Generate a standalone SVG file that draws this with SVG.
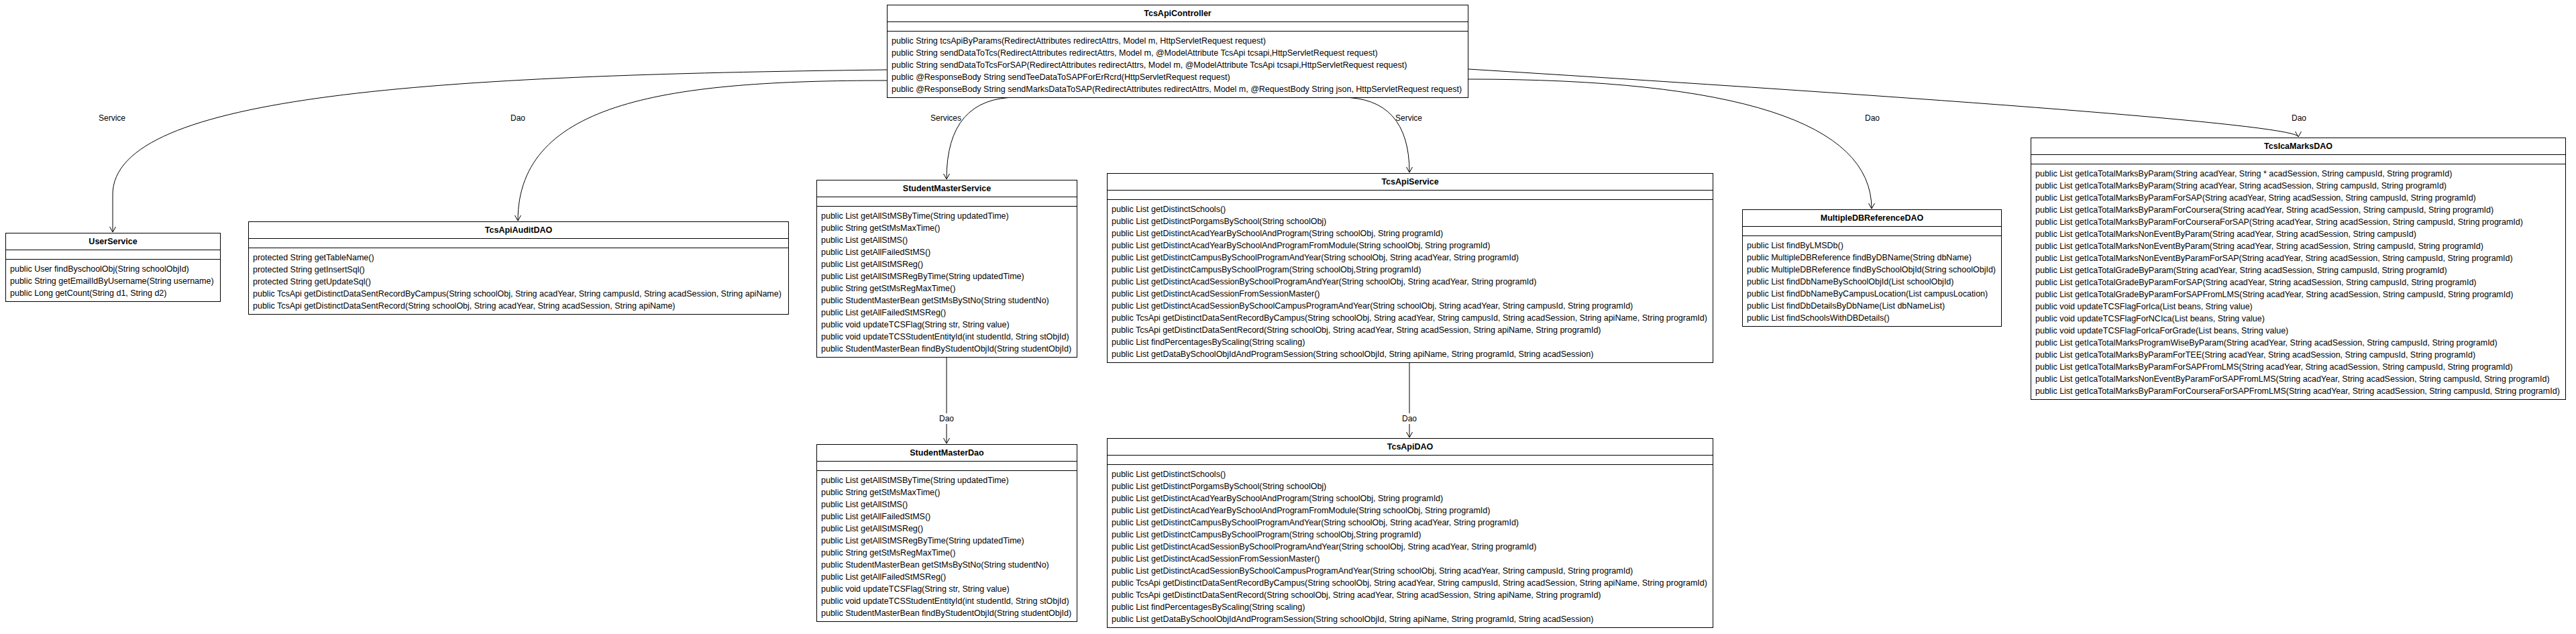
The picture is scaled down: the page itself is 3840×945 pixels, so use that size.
<svg xmlns="http://www.w3.org/2000/svg" width="3840" height="945" viewBox="0 0 3840 945">
<style>
  .box{fill:#ffffff;stroke:#000000;stroke-width:1}
  .sep{stroke:#000000;stroke-width:1}
  .title{font-family:"Liberation Sans",Arial,sans-serif;font-size:12.5px;font-weight:bold;fill:#000000;text-anchor:middle}
  .m{font-family:"Liberation Sans",Arial,sans-serif;font-size:12.5px;fill:#000000}
  .edge{fill:none;stroke:#000000;stroke-width:1;marker-end:url(#open)}
  .lbl{font-family:"Liberation Sans",Arial,sans-serif;font-size:12px;fill:#000000;text-anchor:middle}
  .lblbg{fill:#ffffff}
</style>
<defs>
  <marker id="open" viewBox="-10 -6 12 12" refX="0" refY="0" markerWidth="12" markerHeight="12" markerUnits="userSpaceOnUse" orient="auto">
    <path d="M-8,-4.5 L0,0 L-8,4.5" fill="none" stroke="#000000" stroke-width="1"/>
  </marker>
</defs>
<rect x="0" y="0" width="3840" height="945" fill="#ffffff"/>

<g id="connectors">
  <path class="edge" d="M1322,104 C650,112 168,140 168,290 L168,346"/>
  <path class="edge" d="M1322,120 C1000,120 772,150 772,329"/>
  <path class="edge" d="M1516,145 Q1411,145 1411,267"/>
  <path class="edge" d="M1999,145 Q2101,145 2101,257"/>
  <path class="edge" d="M2189,118 Q2790,118 2790,311"/>
  <path class="edge" d="M2189,103 Q3426,180 3426,204"/>
  <path class="edge" d="M1411,532 L1411,661"/>
  <path class="edge" d="M2101,540 L2101,652"/>
  <text class="lbl" x="167" y="180.3">Service</text>
  <text class="lbl" x="772" y="180.3">Dao</text>
  <text class="lbl" x="1410" y="180.3">Services</text>
  <text class="lbl" x="2100" y="180.3">Service</text>
  <text class="lbl" x="2791" y="180.3">Dao</text>
  <text class="lbl" x="3427" y="180.3">Dao</text>
  <rect class="lblbg" x="1399" y="616" width="24" height="16"/>
  <text class="lbl" x="1411" y="628.3">Dao</text>
  <rect class="lblbg" x="2089" y="616" width="24" height="16"/>
  <text class="lbl" x="2101" y="628.3">Dao</text>
</g>

<g id="TcsApiController">
  <rect class="box" x="1322.5" y="7.5" width="866" height="138"/>
  <line class="sep" x1="1322.5" y1="32.5" x2="2188.5" y2="32.5"/>
  <line class="sep" x1="1322.5" y1="46.5" x2="2188.5" y2="46.5"/>
  <text class="title" x="1755.5" y="24">TcsApiController</text>
  <text class="m" x="1329" y="64.5">public String tcsApiByParams(RedirectAttributes redirectAttrs, Model m, HttpServletRequest request)</text>
  <text class="m" x="1329" y="82.5">public String sendDataToTcs(RedirectAttributes redirectAttrs, Model m, @ModelAttribute TcsApi tcsapi,HttpServletRequest request)</text>
  <text class="m" x="1329" y="100.5">public String sendDataToTcsForSAP(RedirectAttributes redirectAttrs, Model m, @ModelAttribute TcsApi tcsapi,HttpServletRequest request)</text>
  <text class="m" x="1329" y="118.5">public @ResponseBody String sendTeeDataToSAPForErRcrd(HttpServletRequest request)</text>
  <text class="m" x="1329" y="136.5">public @ResponseBody String sendMarksDataToSAP(RedirectAttributes redirectAttrs, Model m, @RequestBody String json, HttpServletRequest request)</text>
</g>

<g id="UserService">
  <rect class="box" x="8.5" y="347.5" width="320" height="102"/>
  <line class="sep" x1="8.5" y1="372.5" x2="328.5" y2="372.5"/>
  <line class="sep" x1="8.5" y1="386.5" x2="328.5" y2="386.5"/>
  <text class="title" x="168.5" y="364">UserService</text>
  <text class="m" x="15" y="404.5">public User findByschoolObj(String schoolObjId)</text>
  <text class="m" x="15" y="422.5">public String getEmailIdByUsername(String username)</text>
  <text class="m" x="15" y="440.5">public Long getCount(String d1, String d2)</text>
</g>

<g id="TcsApiAuditDAO">
  <rect class="box" x="370.5" y="330.5" width="805" height="138"/>
  <line class="sep" x1="370.5" y1="355.5" x2="1175.5" y2="355.5"/>
  <line class="sep" x1="370.5" y1="369.5" x2="1175.5" y2="369.5"/>
  <text class="title" x="773" y="347">TcsApiAuditDAO</text>
  <text class="m" x="377" y="387.5">protected String getTableName()</text>
  <text class="m" x="377" y="405.5">protected String getInsertSql()</text>
  <text class="m" x="377" y="423.5">protected String getUpdateSql()</text>
  <text class="m" x="377" y="441.5">public TcsApi getDistinctDataSentRecordByCampus(String schoolObj, String acadYear, String campusId, String acadSession, String apiName)</text>
  <text class="m" x="377" y="459.5">public TcsApi getDistinctDataSentRecord(String schoolObj, String acadYear, String acadSession, String apiName)</text>
</g>

<g id="StudentMasterService">
  <rect class="box" x="1217.5" y="268.5" width="388" height="264"/>
  <line class="sep" x1="1217.5" y1="293.5" x2="1605.5" y2="293.5"/>
  <line class="sep" x1="1217.5" y1="307.5" x2="1605.5" y2="307.5"/>
  <text class="title" x="1411.5" y="285">StudentMasterService</text>
  <text class="m" x="1224" y="325.5">public List getAllStMSByTime(String updatedTime)</text>
  <text class="m" x="1224" y="343.5">public String getStMsMaxTime()</text>
  <text class="m" x="1224" y="361.5">public List getAllStMS()</text>
  <text class="m" x="1224" y="379.5">public List getAllFailedStMS()</text>
  <text class="m" x="1224" y="397.5">public List getAllStMSReg()</text>
  <text class="m" x="1224" y="415.5">public List getAllStMSRegByTime(String updatedTime)</text>
  <text class="m" x="1224" y="433.5">public String getStMsRegMaxTime()</text>
  <text class="m" x="1224" y="451.5">public StudentMasterBean getStMsByStNo(String studentNo)</text>
  <text class="m" x="1224" y="469.5">public List getAllFailedStMSReg()</text>
  <text class="m" x="1224" y="487.5">public void updateTCSFlag(String str, String value)</text>
  <text class="m" x="1224" y="505.5">public void updateTCSStudentEntityId(int studentId, String stObjId)</text>
  <text class="m" x="1224" y="523.5">public StudentMasterBean findByStudentObjId(String studentObjId)</text>
</g>

<g id="StudentMasterDao">
  <rect class="box" x="1217.5" y="662.5" width="388" height="264"/>
  <line class="sep" x1="1217.5" y1="687.5" x2="1605.5" y2="687.5"/>
  <line class="sep" x1="1217.5" y1="701.5" x2="1605.5" y2="701.5"/>
  <text class="title" x="1411.5" y="679">StudentMasterDao</text>
  <text class="m" x="1224" y="719.5">public List getAllStMSByTime(String updatedTime)</text>
  <text class="m" x="1224" y="737.5">public String getStMsMaxTime()</text>
  <text class="m" x="1224" y="755.5">public List getAllStMS()</text>
  <text class="m" x="1224" y="773.5">public List getAllFailedStMS()</text>
  <text class="m" x="1224" y="791.5">public List getAllStMSReg()</text>
  <text class="m" x="1224" y="809.5">public List getAllStMSRegByTime(String updatedTime)</text>
  <text class="m" x="1224" y="827.5">public String getStMsRegMaxTime()</text>
  <text class="m" x="1224" y="845.5">public StudentMasterBean getStMsByStNo(String studentNo)</text>
  <text class="m" x="1224" y="863.5">public List getAllFailedStMSReg()</text>
  <text class="m" x="1224" y="881.5">public void updateTCSFlag(String str, String value)</text>
  <text class="m" x="1224" y="899.5">public void updateTCSStudentEntityId(int studentId, String stObjId)</text>
  <text class="m" x="1224" y="917.5">public StudentMasterBean findByStudentObjId(String studentObjId)</text>
</g>

<g id="TcsApiService">
  <rect class="box" x="1650.5" y="258.5" width="903" height="282"/>
  <line class="sep" x1="1650.5" y1="283.5" x2="2553.5" y2="283.5"/>
  <line class="sep" x1="1650.5" y1="297.5" x2="2553.5" y2="297.5"/>
  <text class="title" x="2102" y="275">TcsApiService</text>
  <text class="m" x="1657" y="315.5">public List getDistinctSchools()</text>
  <text class="m" x="1657" y="333.5">public List getDistinctPorgamsBySchool(String schoolObj)</text>
  <text class="m" x="1657" y="351.5">public List getDistinctAcadYearBySchoolAndProgram(String schoolObj, String programId)</text>
  <text class="m" x="1657" y="369.5">public List getDistinctAcadYearBySchoolAndProgramFromModule(String schoolObj, String programId)</text>
  <text class="m" x="1657" y="387.5">public List getDistinctCampusBySchoolProgramAndYear(String schoolObj, String acadYear, String programId)</text>
  <text class="m" x="1657" y="405.5">public List getDistinctCampusBySchoolProgram(String schoolObj,String programId)</text>
  <text class="m" x="1657" y="423.5">public List getDistinctAcadSessionBySchoolProgramAndYear(String schoolObj, String acadYear, String programId)</text>
  <text class="m" x="1657" y="441.5">public List getDistinctAcadSessionFromSessionMaster()</text>
  <text class="m" x="1657" y="459.5">public List getDistinctAcadSessionBySchoolCampusProgramAndYear(String schoolObj, String acadYear, String campusId, String programId)</text>
  <text class="m" x="1657" y="477.5">public TcsApi getDistinctDataSentRecordByCampus(String schoolObj, String acadYear, String campusId, String acadSession, String apiName, String programId)</text>
  <text class="m" x="1657" y="495.5">public TcsApi getDistinctDataSentRecord(String schoolObj, String acadYear, String acadSession, String apiName, String programId)</text>
  <text class="m" x="1657" y="513.5">public List findPercentagesByScaling(String scaling)</text>
  <text class="m" x="1657" y="531.5">public List getDataBySchoolObjIdAndProgramSession(String schoolObjId, String apiName, String programId, String acadSession)</text>
</g>

<g id="TcsApiDAO">
  <rect class="box" x="1650.5" y="653.5" width="903" height="282"/>
  <line class="sep" x1="1650.5" y1="678.5" x2="2553.5" y2="678.5"/>
  <line class="sep" x1="1650.5" y1="692.5" x2="2553.5" y2="692.5"/>
  <text class="title" x="2102" y="670">TcsApiDAO</text>
  <text class="m" x="1657" y="710.5">public List getDistinctSchools()</text>
  <text class="m" x="1657" y="728.5">public List getDistinctPorgamsBySchool(String schoolObj)</text>
  <text class="m" x="1657" y="746.5">public List getDistinctAcadYearBySchoolAndProgram(String schoolObj, String programId)</text>
  <text class="m" x="1657" y="764.5">public List getDistinctAcadYearBySchoolAndProgramFromModule(String schoolObj, String programId)</text>
  <text class="m" x="1657" y="782.5">public List getDistinctCampusBySchoolProgramAndYear(String schoolObj, String acadYear, String programId)</text>
  <text class="m" x="1657" y="800.5">public List getDistinctCampusBySchoolProgram(String schoolObj,String programId)</text>
  <text class="m" x="1657" y="818.5">public List getDistinctAcadSessionBySchoolProgramAndYear(String schoolObj, String acadYear, String programId)</text>
  <text class="m" x="1657" y="836.5">public List getDistinctAcadSessionFromSessionMaster()</text>
  <text class="m" x="1657" y="854.5">public List getDistinctAcadSessionBySchoolCampusProgramAndYear(String schoolObj, String acadYear, String campusId, String programId)</text>
  <text class="m" x="1657" y="872.5">public TcsApi getDistinctDataSentRecordByCampus(String schoolObj, String acadYear, String campusId, String acadSession, String apiName, String programId)</text>
  <text class="m" x="1657" y="890.5">public TcsApi getDistinctDataSentRecord(String schoolObj, String acadYear, String acadSession, String apiName, String programId)</text>
  <text class="m" x="1657" y="908.5">public List findPercentagesByScaling(String scaling)</text>
  <text class="m" x="1657" y="926.5">public List getDataBySchoolObjIdAndProgramSession(String schoolObjId, String apiName, String programId, String acadSession)</text>
</g>

<g id="MultipleDBReferenceDAO">
  <rect class="box" x="2597.5" y="312.5" width="386" height="174"/>
  <line class="sep" x1="2597.5" y1="337.5" x2="2983.5" y2="337.5"/>
  <line class="sep" x1="2597.5" y1="351.5" x2="2983.5" y2="351.5"/>
  <text class="title" x="2790.5" y="329">MultipleDBReferenceDAO</text>
  <text class="m" x="2604" y="369.5">public List findByLMSDb()</text>
  <text class="m" x="2604" y="387.5">public MultipleDBReference findByDBName(String dbName)</text>
  <text class="m" x="2604" y="405.5">public MultipleDBReference findBySchoolObjId(String schoolObjId)</text>
  <text class="m" x="2604" y="423.5">public List findDbNameBySchoolObjId(List schoolObjId)</text>
  <text class="m" x="2604" y="441.5">public List findDbNameByCampusLocation(List campusLocation)</text>
  <text class="m" x="2604" y="459.5">public List findDbDetailsByDbName(List dbNameList)</text>
  <text class="m" x="2604" y="477.5">public List findSchoolsWithDBDetails()</text>
</g>

<g id="TcsIcaMarksDAO">
  <rect class="box" x="3027.5" y="205.5" width="797" height="390"/>
  <line class="sep" x1="3027.5" y1="230.5" x2="3824.5" y2="230.5"/>
  <line class="sep" x1="3027.5" y1="244.5" x2="3824.5" y2="244.5"/>
  <text class="title" x="3426" y="222">TcsIcaMarksDAO</text>
  <text class="m" x="3034" y="262.5">public List getIcaTotalMarksByParam(String acadYear, String * acadSession, String campusId, String programId)</text>
  <text class="m" x="3034" y="280.5">public List getIcaTotalMarksByParam(String acadYear, String acadSession, String campusId, String programId)</text>
  <text class="m" x="3034" y="298.5">public List getIcaTotalMarksByParamForSAP(String acadYear, String acadSession, String campusId, String programId)</text>
  <text class="m" x="3034" y="316.5">public List getIcaTotalMarksByParamForCoursera(String acadYear, String acadSession, String campusId, String programId)</text>
  <text class="m" x="3034" y="334.5">public List getIcaTotalMarksByParamForCourseraForSAP(String acadYear, String acadSession, String campusId, String programId)</text>
  <text class="m" x="3034" y="352.5">public List getIcaTotalMarksNonEventByParam(String acadYear, String acadSession, String campusId)</text>
  <text class="m" x="3034" y="370.5">public List getIcaTotalMarksNonEventByParam(String acadYear, String acadSession, String campusId, String programId)</text>
  <text class="m" x="3034" y="388.5">public List getIcaTotalMarksNonEventByParamForSAP(String acadYear, String acadSession, String campusId, String programId)</text>
  <text class="m" x="3034" y="406.5">public List getIcaTotalGradeByParam(String acadYear, String acadSession, String campusId, String programId)</text>
  <text class="m" x="3034" y="424.5">public List getIcaTotalGradeByParamForSAP(String acadYear, String acadSession, String campusId, String programId)</text>
  <text class="m" x="3034" y="442.5">public List getIcaTotalGradeByParamForSAPFromLMS(String acadYear, String acadSession, String campusId, String programId)</text>
  <text class="m" x="3034" y="460.5">public void updateTCSFlagForIca(List beans, String value)</text>
  <text class="m" x="3034" y="478.5">public void updateTCSFlagForNCIca(List beans, String value)</text>
  <text class="m" x="3034" y="496.5">public void updateTCSFlagForIcaForGrade(List beans, String value)</text>
  <text class="m" x="3034" y="514.5">public List getIcaTotalMarksProgramWiseByParam(String acadYear, String acadSession, String campusId, String programId)</text>
  <text class="m" x="3034" y="532.5">public List getIcaTotalMarksByParamForTEE(String acadYear, String acadSession, String campusId, String programId)</text>
  <text class="m" x="3034" y="550.5">public List getIcaTotalMarksByParamForSAPFromLMS(String acadYear, String acadSession, String campusId, String programId)</text>
  <text class="m" x="3034" y="568.5">public List getIcaTotalMarksNonEventByParamForSAPFromLMS(String acadYear, String acadSession, String campusId, String programId)</text>
  <text class="m" x="3034" y="586.5">public List getIcaTotalMarksByParamForCourseraForSAPFromLMS(String acadYear, String acadSession, String campusId, String programId)</text>
</g>
</svg>
